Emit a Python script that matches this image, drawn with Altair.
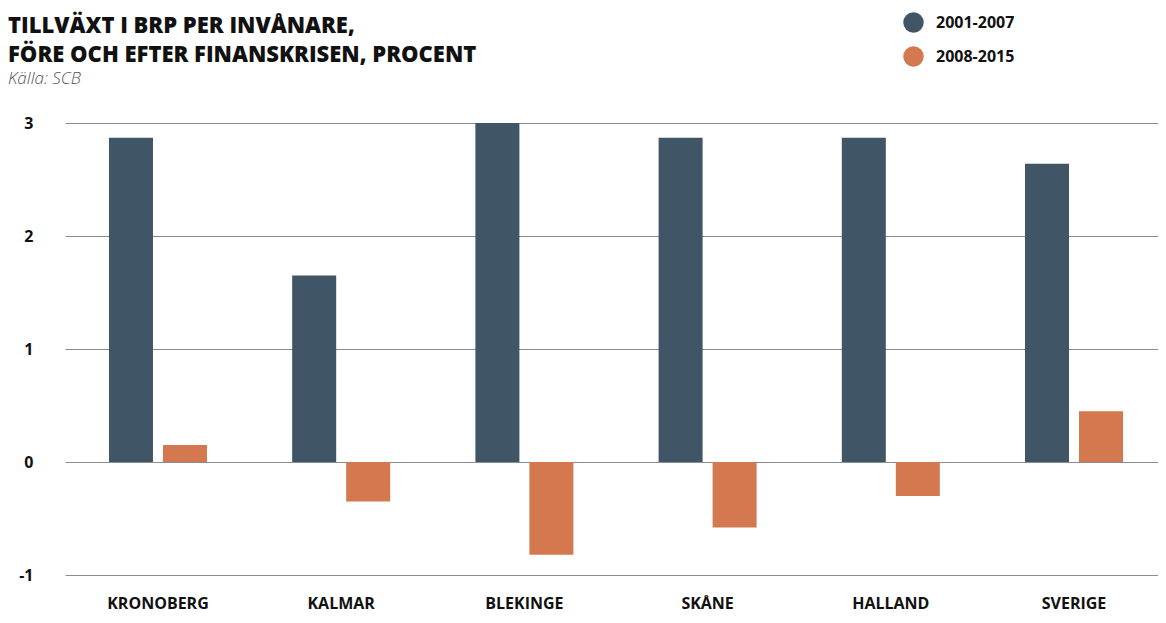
import altair as alt
import pandas as pd

regions = ["KRONOBERG", "KALMAR", "BLEKINGE", "SKÅNE", "HALLAND", "SVERIGE"]
periods = ["2001-2007", "2008-2015"]
v_2001_2007 = [2.87, 1.65, 3.0, 2.87, 2.87, 2.64]
v_2008_2015 = [0.15, -0.35, -0.82, -0.58, -0.30, 0.45]
colors = ["#405566", "#d4784f"]

rows = []
for r, a, b in zip(regions, v_2001_2007, v_2008_2015):
    rows.append({"region": r, "period": periods[0], "value": a})
    rows.append({"region": r, "period": periods[1], "value": b})
df = pd.DataFrame(rows)

FONT = "Open Sans"

chart = alt.Chart(df).mark_bar().encode(
    x=alt.X(
        "region:N", sort=regions, title=None,
        scale=alt.Scale(range=[0, 1102], paddingInner=0.465, paddingOuter=0.24),
        axis=alt.Axis(labelAngle=0, ticks=False, domain=False, labelFont=FONT,
                      labelFontWeight="bold", labelFontSize=16, labelColor="#111111",
                      labelPadding=20, labelBaseline="top"),
    ),
    xOffset=alt.XOffset("period:N", sort=periods,
                        scale=alt.Scale(paddingInner=0.185, paddingOuter=0)),
    y=alt.Y(
        "value:Q", title=None,
        scale=alt.Scale(domain=[-1, 3], nice=False),
        axis=alt.Axis(values=[-1, 0, 1, 2, 3], labelExpr="datum.value + ''",
                      ticks=False, domain=False, labelFont=FONT, labelFontWeight="bold",
                      labelFontSize=16, labelColor="#111111", labelPadding=32,
                      gridColor="#8c8c8c", gridWidth=1, gridOpacity=1),
    ),
    color=alt.Color(
        "period:N", sort=periods,
        scale=alt.Scale(domain=periods, range=colors),
        legend=alt.Legend(orient="none", legendX=838, legendY=-111, title=None,
                          symbolType="circle", symbolSize=420, symbolStrokeWidth=0,
                          symbolOpacity=1, labelFont=FONT, labelFontSize=16,
                          labelFontWeight="bold", labelColor="#111111",
                          rowPadding=13, labelOffset=12),
    ),
).properties(
    width=1093,
    height=452,
    autosize=alt.AutoSizeParams(type="none"),
    padding={"left": 57, "top": 115, "right": 0, "bottom": 40},
    title=alt.Title(
        text=["TILLVÄXT I BRP PER INVÅNARE,", "FÖRE OCH EFTER FINANSKRISEN, PROCENT"],
        subtitle="Källa: SCB",
        anchor="start", frame="group", dx=-57, offset=-76,
        font=FONT, fontSize=22, fontWeight=800, color="#111111", lineHeight=29,
        subtitleFont=FONT, subtitleFontStyle="italic", subtitleFontWeight=300,
        subtitleFontSize=17, subtitleColor="#555555", subtitlePadding=4,
    ),
).configure_view(stroke=None)

chart.save("out.html", embed_options={"renderer": "svg", "actions": False})
